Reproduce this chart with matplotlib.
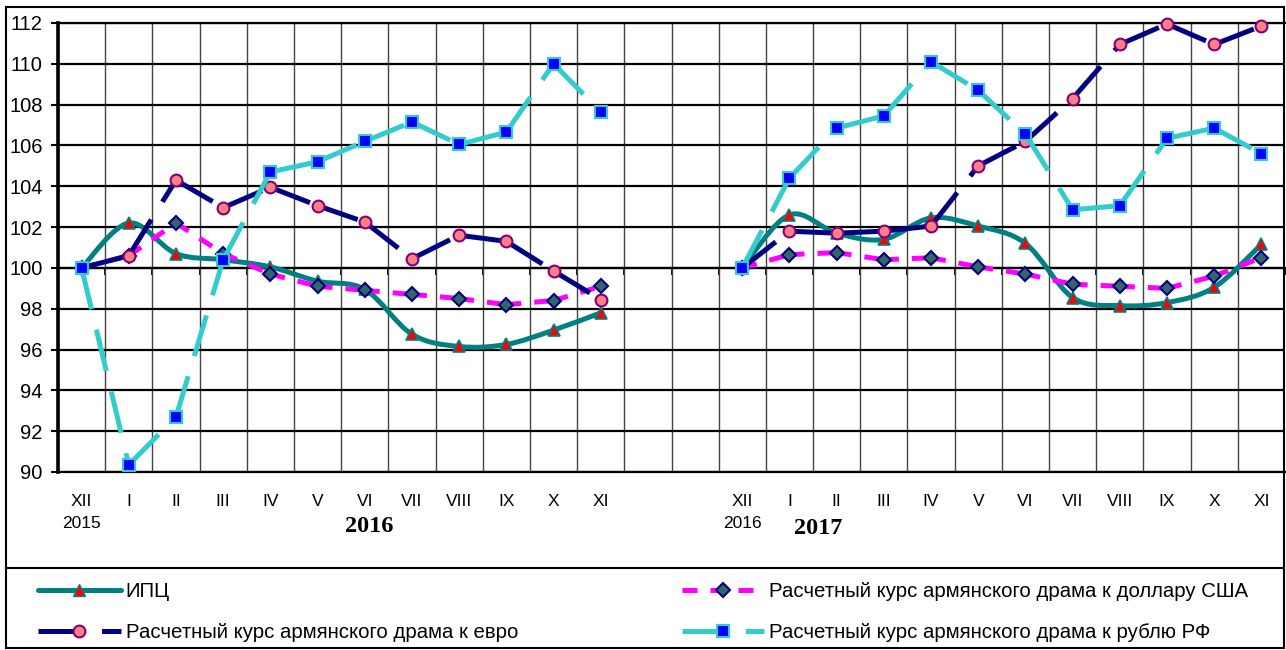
import numpy as np
import matplotlib
matplotlib.use("Agg")
import matplotlib.pyplot as plt
from matplotlib.path import Path
from matplotlib.patches import PathPatch, Rectangle
from matplotlib.lines import Line2D
import matplotlib.transforms as mtransforms

# months of each year block (XII of the previous year first)
months = ['XII', 'I', 'II', 'III', 'IV', 'V', 'VI', 'VII', 'VIII', 'IX', 'X', 'XI']
x_labels = months + ['', ''] + months

cpi_2016 = [100, 102.2, 100.7, 100.4, 100.05, 99.35, 98.95, 96.75, 96.15, 96.25, 96.95, 97.8]
cpi_2017 = [100, 102.6, 101.7, 101.4, 102.45, 102.05, 101.2, 98.55, 98.15, 98.3, 99.05, 101.15]

usd_2016 = [100, 100.6, 102.2, 100.7, 99.7, 99.1, 98.9, 98.7, 98.5, 98.2, 98.4, 99.1]
usd_2017 = [100, 100.65, 100.75, 100.4, 100.5, 100.05, 99.7, 99.2, 99.1, 99.0, 99.6, 100.5]

eur_2016 = [100, 100.6, 104.3, 102.95, 103.95, 103.05, 102.25, 100.45, 101.6, 101.3, 99.85, 98.45]
eur_2017 = [100, 101.8, 101.7, 101.8, 102.05, 105.0, 106.2, 108.3, 110.95, 111.95, 110.95, 111.85]

rub_2016 = [100, 90.35, 92.7, 100.4, 104.7, 105.2, 106.2, 107.15, 106.05, 106.65, 110.0, 107.65]
rub_2017 = [100, 104.4, 106.85, 107.45, 110.1, 108.7, 106.55, 102.85, 103.05, 106.35, 106.85, 105.6]

labels = ['ИПЦ',
          'Расчетный курс армянского драма к доллару США',
          'Расчетный курс армянского драма к евро',
          'Расчетный курс армянского драма к рублю РФ']

gap = [np.nan, np.nan]
cpi = np.array(cpi_2016 + gap + cpi_2017)
usd = np.array(usd_2016 + gap + usd_2017)
eur = np.array(eur_2016 + gap + eur_2017)
rub = np.array(rub_2016 + gap + rub_2017)
x = np.arange(len(x_labels))

W, H = 1286, 650
fig = plt.figure(figsize=(W / 100, H / 100), dpi=100)
ax = fig.add_axes([58 / W, 1 - 472 / H, (1285 - 58) / W, (472 - 23) / H])

sans = 'Liberation Sans'
LW = 3.6


def smooth_path(xs, ys):
    # excel-like smoothed line: bezier through the points
    verts, codes = [], []
    n = len(xs)
    for i in range(n - 1):
        p0 = np.array([xs[max(i - 1, 0)], ys[max(i - 1, 0)]])
        p1 = np.array([xs[i], ys[i]])
        p2 = np.array([xs[i + 1], ys[i + 1]])
        p3 = np.array([xs[min(i + 2, n - 1)], ys[min(i + 2, n - 1)]])
        c1 = p1 + (p2 - p0) / 6
        c2 = p2 - (p3 - p1) / 6
        if i == 0:
            verts.append(p1)
            codes.append(Path.MOVETO)
        verts += [c1, c2, p2]
        codes += [Path.CURVE4] * 3
    return Path(verts, codes)


# CPI: smoothed solid line, one piece per year block
for blk in (slice(0, 12), slice(14, 26)):
    p = smooth_path(x[blk], cpi[blk])
    ax.add_patch(PathPatch(p, fill=False, ec='#008080', lw=LW, zorder=3,
                           capstyle='round', joinstyle='round', clip_on=False))
ax.plot(x, cpi, ls='none', marker='^', ms=9, mfc='#FF0000', mec='#008080',
        mew=1.2, zorder=3.5, clip_on=False)


def dashed_series(vals, color, dashes, marker, ms, mfc, mec, z):
    for i in range(len(vals) - 1):
        if np.isnan(vals[i]) or np.isnan(vals[i + 1]):
            continue
        ax.plot(x[i:i + 2], vals[i:i + 2], color=color, lw=LW, dashes=dashes,
                dash_capstyle='butt', zorder=z, clip_on=False)
    ax.plot(x, vals, ls='none', marker=marker, ms=ms, mfc=mfc, mec=mec,
            mew=1.5, zorder=z + 0.5, clip_on=False)


dashed_series(usd, '#FF00FF', (3, 2.6), 'D', 7.5, '#336666', '#000080', 4)
dashed_series(eur, '#000080', (8.5, 4.2), 'o', 8.5, '#FF8080', '#800080', 5)
dashed_series(rub, '#33CCCC', (8.5, 4.2), 's', 8, '#0000FF', '#33CCCC', 6)

# axes
ax.set_xlim(-0.5, 25.5)
ax.set_ylim(90, 112)
ax.set_yticks(np.arange(90, 113, 2))
ax.set_xticks(x)
ax.set_xticklabels(x_labels, fontsize=12.5, family=sans)
ax.set_xticks(np.arange(-0.5, 26, 1), minor=True)
ax.tick_params(axis='x', which='both', length=0, pad=16)
ax.tick_params(axis='y', direction='out', length=5, width=1.5, pad=6,
               labelsize=14.5)
for t in ax.get_yticklabels():
    t.set_family(sans)
ax.grid(axis='y', which='major', color='black', lw=1.6)
ax.grid(axis='x', which='minor', color='#444444', lw=1.0)
ax.set_axisbelow(True)
ax.spines['left'].set_linewidth(2.6)
ax.spines['bottom'].set_linewidth(1.6)
ax.spines['top'].set_linewidth(1.6)
ax.spines['right'].set_visible(False)

# category axis crossing at 100
sec = ax.secondary_xaxis((100 - 90) / 22)
sec.set_xticks(np.arange(-0.5, 26, 1))
sec.set_xticklabels([])
sec.tick_params(direction='out', length=5, width=1.3)
sec.spines['bottom'].set_linewidth(1.6)

# year captions
tr = mtransforms.blended_transform_factory(ax.transData, fig.transFigure)
ax.text(0, 1 - 524 / H, '2015', transform=tr, ha='center', va='center',
        fontsize=12.5, family=sans)
ax.text(14, 1 - 524 / H, '2016', transform=tr, ha='center', va='center',
        fontsize=12.5, family=sans)
ax.text(6.1, 1 - 527 / H, '2016', transform=tr, ha='center', va='center',
        fontsize=17.5, family='Liberation Serif', weight='bold')
ax.text(15.6, 1 - 528 / H, '2017', transform=tr, ha='center', va='center',
        fontsize=17.5, family='Liberation Serif', weight='bold')

# legend
handles = [
    Line2D([], [], color='#008080', lw=LW, marker='^', ms=9, mfc='#FF0000',
           mec='#008080', solid_capstyle='round'),
    Line2D([], [], color='#000080', lw=LW, dashes=(8.5, 4.2), marker='o', ms=8.5,
           mfc='#FF8080', mec='#800080', mew=1.5),
    Line2D([], [], color='#FF00FF', lw=LW, dashes=(3, 2.6), marker='D', ms=7.5,
           mfc='#336666', mec='#000080', mew=1.5),
    Line2D([], [], color='#33CCCC', lw=LW, dashes=(8.5, 4.2), marker='s', ms=8,
           mfc='#0000FF', mec='#33CCCC', mew=1.5),
]
leg_labels = [labels[0], labels[2], labels[1], labels[3]]
fig.legend(handles, leg_labels, ncol=2, loc='upper left',
           bbox_to_anchor=(38 / W, 1 - 582 / H), borderpad=0, borderaxespad=0,
           handlelength=4.05, handletextpad=0.25, columnspacing=8.0,
           labelspacing=1.1, frameon=False,
           prop={'family': sans, 'size': 14.7})

# outer frames
fig.add_artist(Rectangle((6 / W, 2 / H), 1278 / W, 641 / H, transform=fig.transFigure,
                         fill=False, ec='black', lw=1.5))
fig.add_artist(Line2D([6 / W, 1284 / W], [1 - 568 / H, 1 - 568 / H],
                      transform=fig.transFigure, color='black', lw=1.5))

fig.savefig('out.png', dpi=100)
